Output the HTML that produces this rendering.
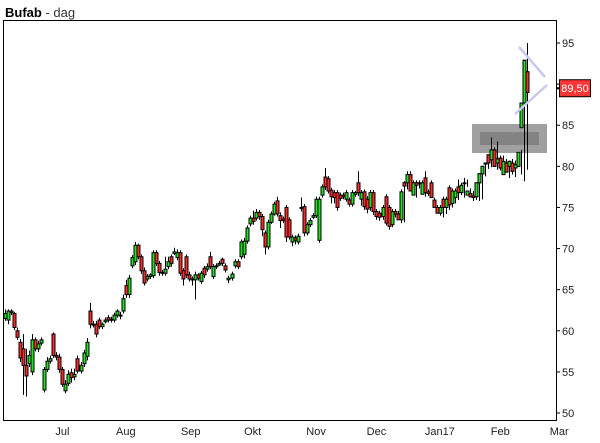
<!DOCTYPE html>
<html><head><meta charset="utf-8"><style>
html,body{margin:0;padding:0;background:#fff;width:600px;height:443px;overflow:hidden}
svg{display:block}
text{font-family:"Liberation Sans",sans-serif}
</style></head><body>
<svg id="chart" width="600" height="443" viewBox="0 0 600 443">
<text x="5" y="17" font-size="13"><tspan font-weight="bold" fill="#000">Bufab</tspan><tspan fill="#333"> -  dag</tspan></text>
<g id="marks"></g>
<rect x="3.5" y="20.5" width="553" height="400" fill="none" stroke="#000" stroke-width="1"/>
<g id="axes"></g>
</svg>
<script>
const opens=[61.5,61.3,62.4,62.1,60,58.6,57.8,55.8,56,55,58.9,57.8,58.5,52.8,55.3,56.3,59.6,57,56.8,55.3,52.7,53.6,54.9,54.4,56.6,55.1,56,56.9,62.4,60.8,60.8,61.3,60.5,61.1,61.6,61.3,61.3,61.9,61.8,62.4,65.5,64.4,67.9,68.4,70.4,69,67.3,66.3,66.6,66.7,69.5,68.2,67.1,67,67.8,69,69.4,68.9,69.5,67.3,69,66.8,66.3,66.2,66.8,66,67.6,67.5,69,66.6,67.8,68,68.7,67.9,66.2,66.4,67.9,68.4,69,69.3,70.9,73,73.7,73.7,74.4,73.9,71.9,70.2,73.2,74.2,75.8,74,73.6,75,73.5,70.8,71.3,70.8,75,75.1,71.9,72.9,73.8,74,71,76.5,78.7,78.5,77.1,76.8,76.8,76.5,76.5,76,75.9,75.4,76.6,78,76,76.9,76,75,76.8,74.5,74.3,73.9,76.3,75,72.9,74.5,74.2,73.5,78,78,79,76.5,78,78,76.6,78.6,76.9,78,75.9,75,74.3,76,75,77.4,75.5,76.2,77.5,76.8,78,76.5,76.7,76.4,76.3,78,79.1,80.4,81.4,80.8,82,80.4,81,79,80.4,80,80.4,79.8,80,84.7,87.7,91.5];
const closes=[62.1,62.4,62.2,60.4,59.2,56.7,55.8,54.5,57,58.9,57.8,58.4,58.9,55.3,56.3,56.6,57,56.8,55.3,53.5,53.5,54.7,54.3,54.7,55.1,55.8,57.3,58.6,60.8,60.8,59.6,60.5,60.8,61.3,61.3,61.4,61.9,62.4,61.9,63.9,64.4,66.4,68.9,70.4,69,67.3,65.8,66.6,66.8,69.5,68.2,67.1,67,67.5,68.4,68.2,69.6,69.5,67,66.3,66.8,66.3,66.2,66.8,66.4,67,66.8,67.8,67.8,67.8,67.9,68.2,68.2,67.4,66.4,66.9,68.4,67.8,70.8,70.9,72.5,73.7,73.3,74.4,73.9,72.3,70.2,73.2,74.2,75.4,74.2,73.4,73.4,71.4,71.4,71.4,71,71.5,74.9,71.9,72.9,73.4,74,76,76,77.5,77.5,77,76.3,76.2,75,76.1,76.3,76.8,75.4,76.8,76.8,76.8,76.8,75.1,74.8,76.8,74.5,73.9,73.8,75,73.1,72.7,74.5,74.2,73.5,76.9,77.6,79,77,78,77.7,78,78,76.8,76.7,76.2,75,74.3,75,75,76,75.3,77,77,76.8,77.7,77.9,77,76.3,76.2,78,79.1,80,80.3,80.4,82,80,80.9,79.8,80.6,79.3,80.6,79.4,80.2,81.7,87.7,92.9,89];
const highs=[62.6,62.6,62.6,62.3,60.4,59,59.6,57.8,57.6,59.6,59.2,58.8,59.2,55.6,56.8,57,59.8,57.4,57.2,55.6,54,55.2,55.4,55.4,57,56.2,57.7,59.1,63.4,61.2,61.2,61.6,61,61.6,61.9,61.7,62.2,62.6,62.3,64.4,66.2,66.8,69.2,70.8,70.6,69.3,67.7,66.9,67,69.8,69.8,68.5,67.4,69,69,69.3,70.1,69.9,69.8,67.6,69.3,67.2,66.6,67.2,67,67.3,67.9,68.2,69.6,68.1,68.2,68.5,68.9,68.2,66.7,67.2,68.7,68.7,71.1,71.3,72.8,74,74.6,74.8,74.7,74.2,72.2,73.5,74.5,75.7,76.3,74.4,73.9,75.3,73.8,71.7,71.6,71.8,76.2,75.4,73.2,73.7,74.3,76.3,76.3,77.8,79.8,78.8,77.4,77.1,77.1,76.8,76.8,77.1,76.2,77.1,77,79.4,77.1,77.2,76.4,77.1,77.1,74.8,74.6,75.3,76.6,75.3,74.8,74.8,74.6,77.2,78.2,79.4,79.4,78.3,78.3,78.3,78.3,79.4,77.2,78.3,76.2,75.3,75.3,76.3,76.3,77.7,77.3,77.3,78.4,78,78.6,78.4,77.3,77,76.6,78.3,79.4,80.3,81.4,83.5,82.3,83,81.3,81.3,80.9,80.7,80.9,80.7,80.5,82,88.5,95,93.5];
const lows=[61.2,60.8,61.9,60.1,58.9,56.2,52.2,52,55.6,54.6,57.5,57.4,58.2,52.5,55,56,56.7,56.4,54.9,53.2,52.4,53.3,53.7,54,54.8,54.8,55.6,56.4,60.3,60.4,59.2,60.2,60.2,60.9,61,61,61,61.6,61.4,62.1,64,64,67.6,68,68.7,66.9,65.5,66,66.3,66.4,67.9,66.7,66.7,66.7,67.5,67.8,69.2,68.6,66.7,65.5,66.4,66,65.5,63.8,66.1,65.7,66.4,67.2,67.5,66.3,67.5,67.9,67.9,67.1,65.8,66.1,67.6,67.5,68.7,68.8,70.6,72.7,72.9,73.4,73.5,71.5,69.3,69.9,73,74,73.9,72.5,73.1,70.8,71.1,70.3,70.5,70.5,74.5,71.5,71.6,72.6,73.6,73.7,70.7,76.2,77.1,76.7,75.5,75.5,74.6,75.8,76,75.7,75.1,75.1,76.3,76.4,75.2,74.7,74.3,74.6,74.1,73.5,73.4,73.5,72.8,72.3,72.6,73.8,73.8,73.1,73.2,77.2,77.6,76.6,76.2,77.3,77.7,76.3,76.4,76.3,75.8,74.7,74,73.8,74.2,74.7,75,75.5,75.9,76.5,76.2,77.5,76.5,75.8,75.9,75.8,76,78.8,79.7,79.9,80.1,79.6,79.5,80.1,79.4,78.6,79,78.7,80.3,79,78.2,79.6,84.3,87.3,87.2];
const yTicks=[50,55,60,65,70,75,80,85,90,95];
const monthLabels=["Jul","Aug","Sep","Okt","Nov","Dec","Jan17","Feb","Mar"];
const monthIndex=[19,40,61.5,82,103,123,144,164,183.5];
const lastPrice=89.5;

const NS="http://www.w3.org/2000/svg";
const X0=5, STEP=3.02;
function xScale(i){return X0+i*STEP;}
function yScale(v){return 413-(v-50)*8.222;}
function mk(tag,attrs,parent){const e=document.createElementNS(NS,tag);for(const k in attrs)e.setAttribute(k,attrs[k]);parent.appendChild(e);return e;}
const marks=document.getElementById('marks');
const axes=document.getElementById('axes');

for(let i=0;i<opens.length;i++){
  const x=Math.round(xScale(i))+0.5;
  const g=mk('g',{},marks);
  
  
  const w=mk('line',{x1:x,x2:x,y1:yScale(highs[i]),y2:yScale(lows[i]),stroke:'#000','stroke-width':1},g);
  
  
  const top=yScale(Math.max(opens[i],closes[i])), bot=yScale(Math.min(opens[i],closes[i]));
  const up=closes[i]>=opens[i];
  const b=mk('rect',{x:x-1.5,y:top,width:3,height:Math.max(bot-top,1),fill:up?'#22e022':'#ff2a2a',stroke:'#000','stroke-width':1},g);
  
  
}

// overlays
const ob=mk('rect',{x:472,y:124,width:75,height:29,fill:'#a0a0a0'},marks);


const ib=mk('rect',{x:480,y:132,width:59,height:13,fill:'#838383'},marks);


// redraw candles above box region
for(let i=0;i<opens.length;i++){ if(xScale(i)>=470){ marks.appendChild(marks.children[i].cloneNode(true)); } }
const l1=mk('line',{x1:519,y1:47,x2:545,y2:77,stroke:'#c8c8f0','stroke-width':2.5},marks);


const l2=mk('line',{x1:547,y1:85,x2:515,y2:114,stroke:'#c8c8f0','stroke-width':2.5},marks);



// y axis
for(const v of yTicks){
  const y=yScale(v);
  const t=mk('line',{x1:556,x2:560,y1:y,y2:y,stroke:'#000'},axes);
  
  
  if(v===90) continue;
  const tx=mk('text',{x:562,y:y+4,'font-size':11,fill:'#222'},axes);
  tx.textContent=v;
  
  
}
// month labels
for(let k=0;k<monthLabels.length;k++){
  const tx=mk('text',{x:xScale(monthIndex[k]),y:435,'font-size':11,'text-anchor':'middle',fill:'#222'},axes);
  tx.textContent=monthLabels[k];
  
  
}
// last price label
const ly=yScale(lastPrice);
const pk=mk('line',{x1:556,x2:560,y1:ly,y2:ly,stroke:'#000','stroke-width':2},axes);


const pr=mk('rect',{x:559.5,y:ly-8.5,width:31,height:17,fill:'#ff3434',stroke:'#000','stroke-width':1},axes);


const pt=mk('text',{x:575,y:ly+4,'font-size':11,'text-anchor':'middle',fill:'#fff'},axes);
pt.textContent=lastPrice.toFixed(2).replace('.',',');


</script>
</body></html>
